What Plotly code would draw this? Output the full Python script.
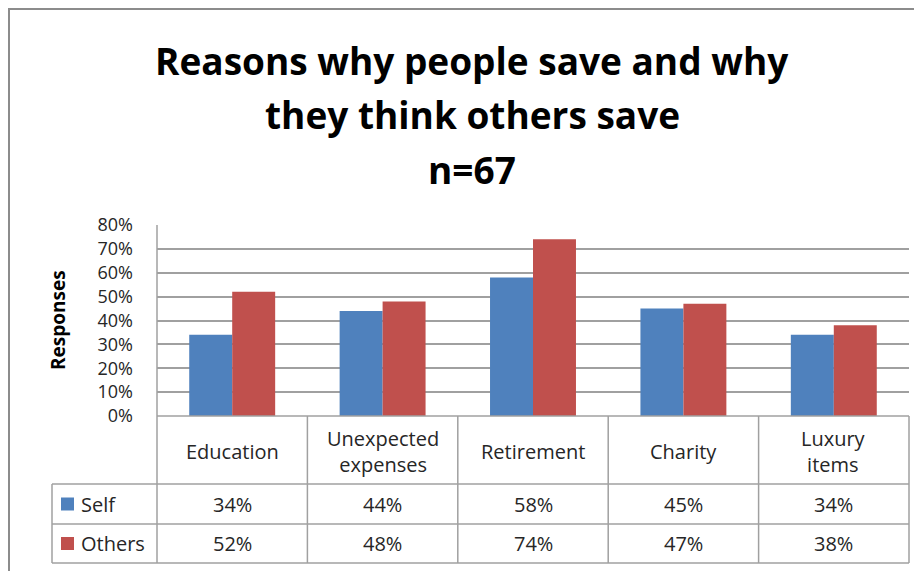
import plotly.graph_objects as go

# ---- data ----
categories = ["Education", "Unexpected expenses", "Retirement", "Charity", "Luxury items"]
category_labels = ["Education", "Unexpected<br>expenses", "Retirement", "Charity", "Luxury<br>items"]
series_names = ["Self", "Others"]
self_vals = [0.34, 0.44, 0.58, 0.45, 0.34]
others_vals = [0.52, 0.48, 0.74, 0.47, 0.38]
y_ticks = [0, 0.1, 0.2, 0.3, 0.4, 0.5, 0.6, 0.7, 0.8]
title_lines = ["Reasons why people save and why", "they think others save", "n=67"]
y_title = "Responses"

# ---- layout constants (page body has an 8px default margin) ----
OFF = 8
W, H = 922 - OFF, 571 - OFF
L, T = 157 - OFF, 225 - OFF
R = W - (909 - OFF)
B = H - (416 - OFF)
PW, PH = W - L - R, H - T - B
colors = ["#4F81BD", "#C0504D"]
grid_c = "#A0A0A0"
font_fam = "Open Sans, Noto Sans, sans-serif"
txt_c = "#262626"


def px(xp):
    return (xp - OFF - L) / PW


def py(yp):
    return (H - B - (yp - OFF)) / PH


n = len(categories)
fig = go.Figure()
for name, vals, c in zip(series_names, [self_vals, others_vals], colors):
    fig.add_trace(go.Bar(x=categories, y=vals, name=name, marker=dict(color=c, line=dict(width=0))))

shapes = []
# outer chart border (left & top)
shapes.append(dict(type="path", xref="paper", yref="paper",
                   path=f"M {px(9)} {py(580)} L {px(9)} {py(9)} L {px(930)} {py(9)}",
                   line=dict(color="#8C8C8C", width=2)))
# table geometry
row_tops = [416, 484, 524, 563]
for yy in row_tops:
    x0 = 157 if yy == 416 else 52
    shapes.append(dict(type="line", xref="paper", yref="paper", x0=px(x0), x1=1,
                       y0=py(yy), y1=py(yy), line=dict(color=grid_c, width=1.5)))
# left plot border down through table
shapes.append(dict(type="line", xref="paper", yref="paper", x0=0, x1=0,
                   y0=1, y1=py(563), line=dict(color=grid_c, width=1.5)))
# legend column left edge
shapes.append(dict(type="line", xref="paper", yref="paper", x0=px(52), x1=px(52),
                   y0=py(484), y1=py(563), line=dict(color=grid_c, width=1.5)))
# category boundaries in table
for i in range(1, n + 1):
    xb = i / n
    shapes.append(dict(type="line", xref="paper", yref="paper", x0=xb, x1=xb,
                       y0=0, y1=py(563), line=dict(color=grid_c, width=1.5)))
# legend keys
row_centers = [504, 543.5]
for c, yc in zip(colors, row_centers):
    shapes.append(dict(type="rect", xref="paper", yref="paper", x0=px(61), x1=px(74),
                       y0=py(yc - 6.5), y1=py(yc + 6.5), fillcolor=c, line=dict(width=0)))

annotations = []
# title
for line, yc in zip(title_lines, [60, 115, 169]):
    annotations.append(dict(text=line, xref="paper", yref="paper", x=px(472), y=py(yc),
                            xanchor="center", yanchor="middle", showarrow=False,
                            font=dict(family=font_fam, size=37, color="#000000", weight="bold")))
# y axis title
annotations.append(dict(text=y_title, xref="paper", yref="paper", x=px(58), y=py(320),
                        textangle=-90, xanchor="center", yanchor="middle", showarrow=False,
                        font=dict(family=font_fam, size=19, color="#000000", weight="bold")))
# category labels in table
for cat, lab in zip(categories, category_labels):
    annotations.append(dict(text=lab, x=cat, xref="x", yref="paper", y=py(451),
                            xanchor="center", yanchor="middle", showarrow=False,
                            font=dict(family=font_fam, size=20, color=txt_c)))
# series rows
for name, vals, yc in zip(series_names, [self_vals, others_vals], row_centers):
    annotations.append(dict(text=name, xref="paper", yref="paper", x=px(79), y=py(yc),
                            xanchor="left", yanchor="middle", showarrow=False,
                            font=dict(family=font_fam, size=20, color=txt_c)))
    for cat, v in zip(categories, vals):
        annotations.append(dict(text=f"{round(v * 100)}%", x=cat, xref="x", yref="paper", y=py(yc),
                                xanchor="center", yanchor="middle", showarrow=False,
                                font=dict(family=font_fam, size=20, color=txt_c)))

fig.update_layout(
    width=W, height=H,
    margin=dict(l=L, r=R, t=T, b=B, pad=0),
    paper_bgcolor="white", plot_bgcolor="white",
    barmode="group", bargap=0.4286, bargroupgap=0,
    showlegend=False,
    shapes=shapes, annotations=annotations,
    xaxis=dict(type="category", range=[-0.5, n - 0.5], showticklabels=False, showgrid=False,
               zeroline=False, showline=False, ticks=""),
    yaxis=dict(range=[0, 0.8], tickvals=y_ticks, tickformat=".0%", showgrid=True,
               gridcolor=grid_c, gridwidth=1.5, zeroline=False, showline=False, ticks="",
               ticklabelstandoff=23,
               tickfont=dict(family=font_fam, size=18, color=txt_c)),
)
fig.write_html("out.html")
